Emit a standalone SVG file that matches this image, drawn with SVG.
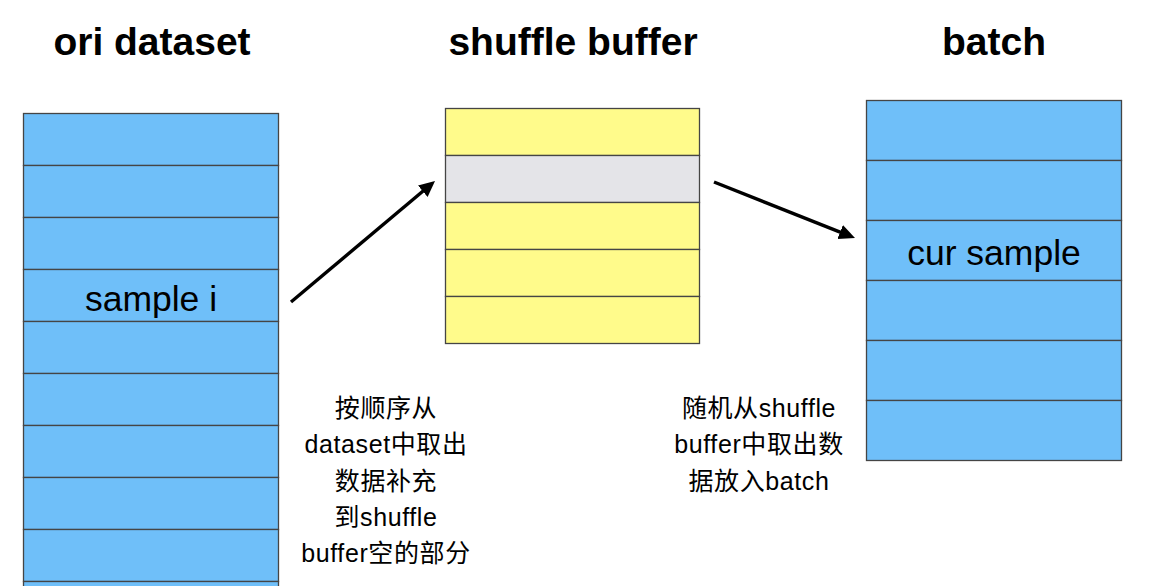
<svg xmlns="http://www.w3.org/2000/svg" width="1150" height="586" viewBox="0 0 1150 586">
<defs>
<style>
.title{font-family:"Liberation Sans",Arial,sans-serif;font-weight:bold;font-size:39px;fill:#000;text-anchor:middle}
.lbl{font-family:"Liberation Sans",Arial,sans-serif;font-size:35.5px;fill:#000;text-anchor:middle}
.note{font-family:"Liberation Sans","Noto Sans CJK SC",sans-serif;font-size:25px;letter-spacing:0.6px;fill:#000;text-anchor:middle}
.blue{fill:#6fbff9;stroke:#454545;stroke-width:1.3}
.yel{fill:#fffb8b;stroke:#454545;stroke-width:1.3}
.gray{fill:#e4e4e8;stroke:#454545;stroke-width:1.3}
.conn{stroke:#000;stroke-width:3.4;fill:none;marker-end:url(#ah)}
</style>
<marker id="ah" markerUnits="userSpaceOnUse" markerWidth="18" markerHeight="16" refX="2" refY="7.5" orient="auto">
<path d="M0,0 L16,7.5 L0,15 z" fill="#000"/>
</marker>
</defs>
<rect width="1150" height="586" fill="#fff"/>
<text class="title" x="152" y="55">ori dataset</text>
<text class="title" x="573" y="55">shuffle buffer</text>
<text class="title" x="994" y="55">batch</text>
<g id="ori-dataset">
<rect class="blue" x="23.5" y="113.5" width="255" height="52"/>
<rect class="blue" x="23.5" y="165.5" width="255" height="52"/>
<rect class="blue" x="23.5" y="217.5" width="255" height="52"/>
<rect class="blue" x="23.5" y="269.5" width="255" height="52"/>
<rect class="blue" x="23.5" y="321.5" width="255" height="52"/>
<rect class="blue" x="23.5" y="373.5" width="255" height="52"/>
<rect class="blue" x="23.5" y="425.5" width="255" height="52"/>
<rect class="blue" x="23.5" y="477.5" width="255" height="52"/>
<rect class="blue" x="23.5" y="529.5" width="255" height="52"/>
<rect class="blue" x="23.5" y="581.5" width="255" height="52"/>
<text class="lbl" x="151" y="311">sample i</text>
</g>
<g id="shuffle-buffer">
<rect class="yel" x="445.5" y="108.5" width="254" height="47"/>
<rect class="gray" x="445.5" y="155.5" width="254" height="47"/>
<rect class="yel" x="445.5" y="202.5" width="254" height="47"/>
<rect class="yel" x="445.5" y="249.5" width="254" height="47"/>
<rect class="yel" x="445.5" y="296.5" width="254" height="47"/>
</g>
<g id="batch">
<rect class="blue" x="866.5" y="100.5" width="255" height="60"/>
<rect class="blue" x="866.5" y="160.5" width="255" height="60"/>
<rect class="blue" x="866.5" y="220.5" width="255" height="60"/>
<rect class="blue" x="866.5" y="280.5" width="255" height="60"/>
<rect class="blue" x="866.5" y="340.5" width="255" height="60"/>
<rect class="blue" x="866.5" y="400.5" width="255" height="60"/>
<text class="lbl" x="994" y="265">cur sample</text>
</g>
<g id="connectors">
<line class="conn" x1="291" y1="302" x2="424.3" y2="190"/>
<line class="conn" x1="714" y1="182" x2="842" y2="232.8"/>
</g>
<g id="note-left">
<text class="note" x="386" y="417">按顺序从</text>
<text class="note" x="386" y="453">dataset中取出</text>
<text class="note" x="386" y="490">数据补充</text>
<text class="note" x="386" y="526">到shuffle</text>
<text class="note" x="386" y="562">buffer空的部分</text>
</g>
<g id="note-right">
<text class="note" x="759" y="417">随机从shuffle</text>
<text class="note" x="759" y="453">buffer中取出数</text>
<text class="note" x="759" y="490">据放入batch</text>
</g>
</svg>
